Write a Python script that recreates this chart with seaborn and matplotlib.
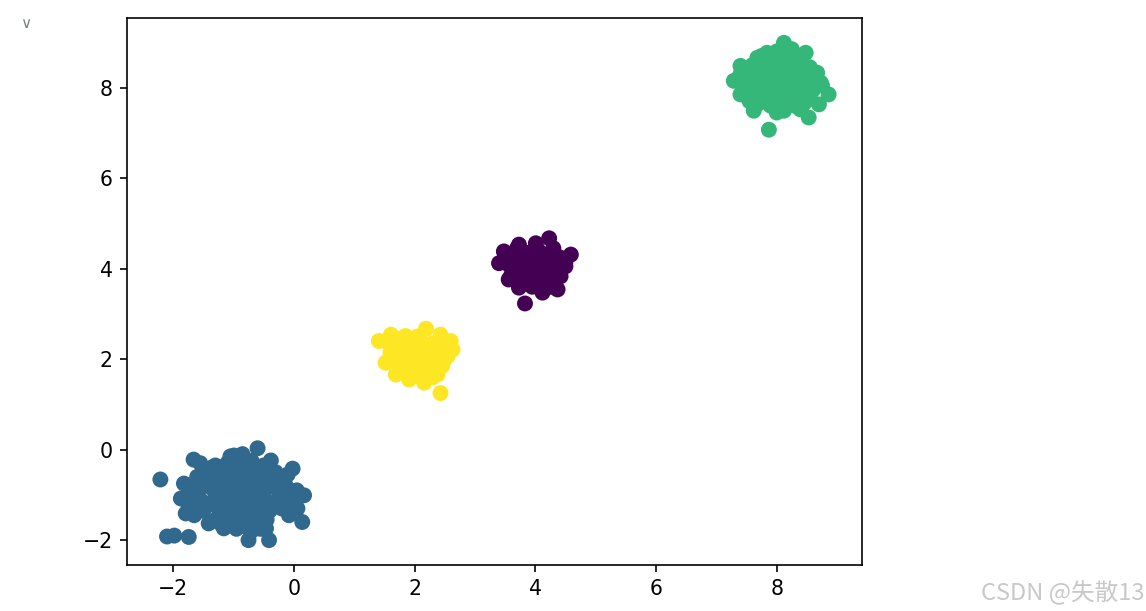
import numpy as np
import pandas as pd
import matplotlib
matplotlib.use("Agg")
import matplotlib.pyplot as plt
import seaborn as sns

# cluster points (label -> viridis colour)
purple_x = [3.83, 4.23, 3.40, 3.48, 3.73, 4.01, 4.59, 4.50, 4.37, 4.12, 3.56, 3.73, 4.42,
            3.65, 3.85, 4.05, 4.25, 4.40, 3.55, 3.75, 3.95, 4.15, 4.35, 3.70, 3.90, 4.10,
            4.30, 3.80, 4.00, 4.20, 3.95, 4.15, 4.30, 3.60,
            3.70, 3.90, 4.10, 3.65, 3.85, 4.05, 4.25, 4.40, 3.90, 4.10, 4.25, 4.50, 3.50]
purple_y = [3.23, 4.67, 4.12, 4.38, 4.53, 4.56, 4.31, 4.05, 3.54, 3.47, 3.76, 3.58, 3.83,
            4.30, 4.35, 4.40, 4.35, 4.25, 4.10, 4.15, 4.20, 4.20, 4.10, 3.95, 4.00, 4.00,
            3.95, 3.80, 3.80, 3.80, 3.60, 3.65, 4.45, 3.85,
            4.45, 4.30, 4.30, 4.05, 3.90, 3.90, 4.05, 3.95, 3.70, 3.70, 3.60, 4.15, 4.25]

blue_x = [-2.21, -2.10, -1.98, -1.74, -0.60, -1.66, -0.02, 0.17, 0.06, 0.14, -0.08, -0.41,
          -0.75, -0.46, -1.87, -1.82, -1.79, -1.41, -1.16, -0.99, -0.38, -0.10, -1.37,
          -1.50, -1.30, -1.10, -0.90, -0.70, -0.50, -0.30, -1.45, -1.25, -1.00, -0.80,
          -0.55, -0.35, -0.20, -1.55, -1.30, -1.10, -0.90, -0.70, -0.50, -0.30, -1.50,
          -1.25, -1.00, -0.80, -0.60, -0.40, -0.20, -1.30, -1.05, -0.85, -0.65, -0.45,
          -0.95, -0.70, -1.60, -0.15, 0.00,
          -1.40, -1.20, -1.00, -0.80, -0.60, -0.40, -1.35, -1.15, -0.90, -0.65, -0.45,
          -0.25, -1.40, -1.20, -0.95, -0.75, -0.55, -0.35, -1.15, -0.90, -0.70, -0.50,
          -1.20, -0.80, -0.55, -1.65, -1.70, -0.10, -0.10, -0.85, -1.05,
          -1.65, -1.65, -1.60, -1.75, -1.55, 0.05, -0.05]
blue_y = [-0.66, -1.92, -1.90, -1.93, 0.03, -0.22, -0.42, -1.01, -1.30, -1.60, -1.45, -2.00,
          -2.00, -1.74, -1.08, -0.75, -1.41, -1.63, -1.74, -0.13, -0.24, -0.86, -0.40,
          -0.50, -0.35, -0.30, -0.20, -0.25, -0.35, -0.50, -0.80, -0.70, -0.60, -0.55,
          -0.65, -0.80, -1.00, -1.10, -1.00, -0.95, -0.90, -0.85, -1.00, -1.15, -1.35,
          -1.30, -1.20, -1.25, -1.30, -1.35, -1.30, -1.55, -1.50, -1.55, -1.60, -1.55,
          -1.75, -1.80, -0.95, -0.75, -1.10,
          -0.60, -0.50, -0.45, -0.40, -0.45, -0.60, -0.85, -0.80, -0.75, -0.70, -0.85,
          -0.90, -1.20, -1.10, -1.05, -1.05, -1.15, -1.25, -1.40, -1.40, -1.45, -1.45,
          -1.65, -1.70, -1.75, -1.25, -0.90, -1.20, -0.55, -0.10, -0.15,
          -0.75, -1.45, -0.60, -1.20, -0.30, -0.90, -1.00]

green_x = [7.87, 8.12, 8.48, 7.40, 7.29, 7.40, 8.86, 8.70, 8.53, 7.62, 8.12, 7.68, 7.84,
           8.67, 8.73, 8.39, 7.60, 7.80, 8.00, 8.20, 8.40, 8.55, 7.50, 7.70, 7.90, 8.10,
           8.30, 8.50, 7.45, 7.65, 7.85, 8.05, 8.25, 8.45, 8.60, 7.55, 7.75, 7.95, 8.15,
           8.35, 8.55, 7.70, 7.90, 8.10, 8.30, 8.00, 8.25, 8.00,
           7.75, 7.95, 8.15, 8.35, 7.55, 7.75, 7.95, 8.15, 8.35, 8.60, 7.60, 7.85, 8.05,
           8.25, 8.45, 7.80, 8.00, 8.20, 8.45, 7.55, 8.75, 7.40]
green_y = [7.07, 8.99, 8.77, 8.48, 8.15, 7.85, 7.85, 7.63, 7.34, 7.49, 7.49, 8.66, 8.77,
           8.33, 8.11, 7.52, 8.50, 8.55, 8.60, 8.70, 8.55, 8.45, 8.30, 8.30, 8.35, 8.40,
           8.35, 8.20, 8.05, 8.10, 8.10, 8.15, 8.10, 8.00, 7.95, 7.85, 7.90, 7.90, 7.85,
           7.80, 7.75, 7.65, 7.60, 7.65, 7.60, 7.45, 8.85, 8.80,
           8.70, 8.45, 8.55, 8.65, 8.20, 8.20, 8.20, 8.25, 8.25, 8.35, 7.95, 8.00, 8.00,
           7.95, 7.90, 7.75, 7.75, 7.70, 7.65, 7.70, 8.05, 8.30]

yellow_x = [2.43, 2.19, 1.41, 2.60, 2.63, 1.61, 1.85, 2.43, 1.52, 1.69, 1.91, 2.16, 2.46,
            2.55, 2.38, 1.70, 1.90, 2.10, 2.30, 1.60, 1.80, 2.00, 2.20, 2.40, 1.70, 1.90,
            2.10, 2.30, 1.80, 2.00, 2.20, 2.05, 2.30,
            1.75, 1.95, 2.15, 2.35, 1.65, 1.85, 2.05, 2.25, 1.95, 2.10, 1.60, 2.45, 2.50]
yellow_y = [1.25, 2.67, 2.40, 2.40, 2.21, 2.54, 2.51, 2.54, 1.92, 1.66, 1.55, 1.48, 1.85,
            2.07, 1.66, 2.30, 2.35, 2.40, 2.35, 2.15, 2.10, 2.15, 2.20, 2.20, 1.95, 1.90,
            1.95, 2.00, 1.75, 1.70, 1.75, 2.50, 1.60,
            2.45, 2.25, 2.30, 2.10, 2.00, 2.00, 2.00, 1.85, 1.80, 1.60, 2.30, 2.35, 2.00]

colors = ["#440154", "#31688e", "#35b779", "#fde725"]

df = pd.concat([
    pd.DataFrame({"x": purple_x, "y": purple_y, "label": 0}),
    pd.DataFrame({"x": blue_x, "y": blue_y, "label": 1}),
    pd.DataFrame({"x": green_x, "y": green_y, "label": 2}),
    pd.DataFrame({"x": yellow_x, "y": yellow_y, "label": 3}),
], ignore_index=True)

fig = plt.figure(figsize=(1146 / 148, 611 / 148), dpi=148)
ax = fig.add_axes([0.1108, 0.0753, 0.6414, 0.8953])
sns.scatterplot(data=df, x="x", y="y", hue="label", palette=colors, s=60,
                linewidth=0, legend=False, ax=ax, alpha=1)
ax.set_xlabel(""); ax.set_ylabel("")
ax.set_xticks([-2, 0, 2, 4, 6, 8])
ax.set_yticks([-2, 0, 2, 4, 6, 8])

fig.text(0.022, 0.962, "∨", color="#7a8090", fontsize=7.5, ha="center", va="center")
fig.text(0.999, 0.03, "CSDN @失散13", color="#c8c8c8", fontsize=11.5, ha="right", va="center",
         family=["Noto Sans CJK SC", "DejaVu Sans"])

fig.savefig("out.png", dpi=148)
